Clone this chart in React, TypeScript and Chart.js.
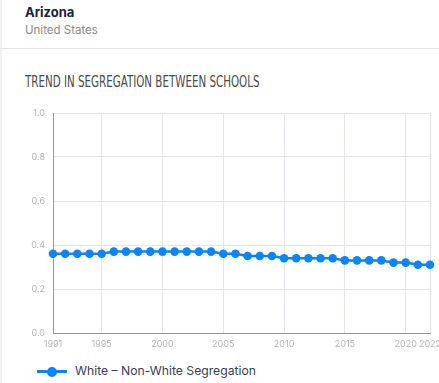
import React, { useEffect, useRef } from "react";
import { Chart, registerables } from "chart.js";

Chart.register(...registerables);

const years = [
  1991, 1992, 1993, 1994, 1995, 1996, 1997, 1998, 1999, 2000, 2001, 2002, 2003, 2004, 2005, 2006,
  2007, 2008, 2009, 2010, 2011, 2012, 2013, 2014, 2015, 2016, 2017, 2018, 2019, 2020, 2021, 2022,
];
const segregation = [
  0.36, 0.36, 0.36, 0.36, 0.36, 0.37, 0.37, 0.37, 0.37, 0.37, 0.37, 0.37, 0.37, 0.37, 0.36, 0.36,
  0.35, 0.35, 0.35, 0.34, 0.34, 0.34, 0.34, 0.34, 0.33, 0.33, 0.33, 0.33, 0.32, 0.32, 0.31, 0.31,
];
const xTicks = [1991, 1995, 2000, 2005, 2010, 2015, 2020, 2022];
const seriesLabel = "White – Non-White Segregation";
const BLUE = "#0a84ff";

export default function App() {
  const ref = useRef<HTMLCanvasElement | null>(null);

  useEffect(() => {
    if (!ref.current) return;
    const chart = new Chart(ref.current, {
      type: "line",
      data: {
        datasets: [
          {
            label: seriesLabel,
            data: years.map((y, i) => ({ x: y, y: segregation[i] })),
            borderColor: BLUE,
            backgroundColor: BLUE,
            borderWidth: 2.5,
            pointRadius: 4.3,
            pointBorderWidth: 0,
            pointBackgroundColor: BLUE,
            tension: 0,
            clip: false as any,
          },
        ],
      },
      options: {
        animation: false,
        responsive: false,
        maintainAspectRatio: false,
        layout: { padding: { top: 18, right: 0, left: 0, bottom: 0 } },
        plugins: { legend: { display: false }, tooltip: { enabled: false } },
        scales: {
          x: {
            type: "linear",
            min: 1991,
            max: 2022,
            afterBuildTicks: (scale: any) => {
              scale.ticks = xTicks.map((v) => ({ value: v }));
            },
            afterFit: (scale: any) => {
              scale.height = 22;
              scale.paddingRight = 9;
              scale.paddingLeft = 0;
            },
            grid: { color: "#e3e5ee", drawTicks: false, lineWidth: 1 },
            border: { color: "#9a9a9a", width: 1 },
            ticks: {
              padding: 6,
              maxRotation: 0,
              autoSkip: false,
              color: "#b5b5b5",
              font: { family: "Inter", size: 9 },
              callback: (v: any) => String(v),
            },
          },
          y: {
            min: 0,
            max: 1,
            afterFit: (scale: any) => {
              scale.width = 53;
            },
            grid: { color: "#e3e5ee", drawTicks: false, lineWidth: 1 },
            border: { color: "#9a9a9a", width: 1 },
            ticks: {
              stepSize: 0.2,
              padding: 8,
              color: "#b5b5b5",
              font: { family: "Inter", size: 9 },
              callback: (v: any) => Number(v).toFixed(1),
            },
          },
        },
      },
    });
    return () => chart.destroy();
  }, []);

  return (
    <div style={{ position: "absolute", left: 0, top: 0, width: 439, height: 383, background: "#fff", overflow: "hidden" }}>
      <div style={{ position: "absolute", left: 0, top: 0, width: 2, height: 383, background: "#f1f1f3" }} />
      <div style={{ position: "absolute", left: 0, top: 48, width: 439, height: 1, background: "#e4e4e8" }} />
      <div style={{ position: "absolute", left: 25, top: 4, fontFamily: "Inter", fontWeight: 700, fontSize: 13, color: "#1b2240" }}>
        Arizona
      </div>
      <div style={{ position: "absolute", left: 25, top: 23, fontFamily: "Inter", fontSize: 11.5, color: "#8a8a8a" }}>
        United States
      </div>
      <div
        style={{
          position: "absolute",
          left: 25,
          top: 73,
          fontFamily: "'DejaVu Sans Condensed', 'Liberation Sans Narrow', sans-serif",
          fontSize: 15.5,
          color: "#4a4a4a",
          whiteSpace: "nowrap",
          transformOrigin: "left top",
          transform: "scaleX(0.74)",
        }}
      >
        TREND IN SEGREGATION BETWEEN SCHOOLS
      </div>
      <canvas ref={ref} width={439} height={260} style={{ position: "absolute", left: 0, top: 95, width: 439, height: 260 }} />
      <div style={{ position: "absolute", left: 37, top: 370, width: 30, height: 3, background: BLUE }} />
      <div style={{ position: "absolute", left: 47, top: 366.5, width: 10, height: 10, borderRadius: 5, background: BLUE }} />
      <div style={{ position: "absolute", left: 75, top: 363, fontFamily: "Inter", fontSize: 12.2, color: "#3a3f55", whiteSpace: "nowrap" }}>
        {seriesLabel}
      </div>
    </div>
  );
}
